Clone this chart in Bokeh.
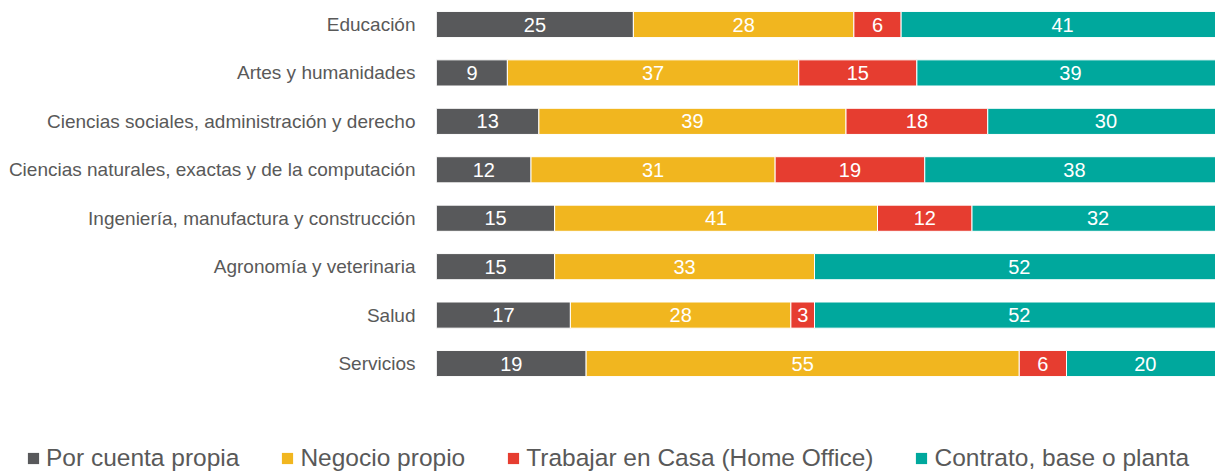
from bokeh.plotting import figure
from bokeh.models import ColumnDataSource, FixedTicker, Legend, LegendItem, Range1d
from bokeh.core.properties import value
from bokeh.embed import file_html
from bokeh.resources import INLINE

categories = [
    "Educación",
    "Artes y humanidades",
    "Ciencias sociales, administración y derecho",
    "Ciencias naturales, exactas y de la computación",
    "Ingeniería, manufactura y construcción",
    "Agronomía y veterinaria",
    "Salud",
    "Servicios",
]
series_names = ["Por cuenta propia", "Negocio propio", "Trabajar en Casa (Home Office)", "Contrato, base o planta"]
por_cuenta_propia = [25, 9, 13, 12, 15, 15, 17, 19]
negocio_propio = [28, 37, 39, 31, 41, 33, 28, 55]
trabajar_en_casa = [6, 15, 18, 19, 12, 0, 3, 6]
contrato = [41, 39, 30, 38, 32, 52, 52, 20]
colors = ["#58595b", "#f1b61f", "#e63d30", "#00a89d"]

FONT = "Liberation Sans"
n = len(categories)
ypos = [n - 1 - i for i in range(n)]
keys = ["s0", "s1", "s2", "s3"]
series = [por_cuenta_propia, negocio_propio, trabajar_en_casa, contrato]

data = {"y": ypos}
for k, s in zip(keys, series):
    data[k] = s
src = ColumnDataSource(data)

p = figure(width=1215, height=436, output_backend="svg", toolbar_location=None,
           x_range=Range1d(0, 98.92), y_range=Range1d(-1.507, 7.4956),
           min_border_left=436, min_border_right=0, min_border_top=0, min_border_bottom=0)

p.hbar_stack(keys, y="y", height=0.54, color=colors, source=src,
             line_color="white", line_width=1)

# segment labels
lx, ly, lt = [], [], []
for i in range(n):
    left = 0
    for s in series:
        v = s[i]
        if v > 0:
            lx.append(left + v / 2)
            ly.append(ypos[i])
            lt.append(str(v))
        left += v
p.text(x=lx, y=ly, text=lt, text_color="white", text_align="center", text_baseline="middle",
       text_font=value(FONT), text_font_size="20px")

p.xaxis.visible = False
p.xgrid.visible = False
p.ygrid.visible = False
p.outline_line_color = None

ax = p.yaxis[0]
ax.ticker = FixedTicker(ticks=ypos)
ax.major_label_overrides = {y: c for y, c in zip(ypos, categories)}
ax.axis_line_color = None
ax.major_tick_line_color = None
ax.minor_tick_line_color = None
ax.major_label_standoff = 15
ax.major_label_text_font = FONT
ax.major_label_text_font_size = "19px"
ax.major_label_text_color = "#595959"

# legend strip (separate root so its frame is not aligned with the chart's)
p2 = figure(width=1215, height=36, output_backend="svg", toolbar_location=None,
            x_range=Range1d(0, 1), y_range=Range1d(0, 1),
            x_axis_location=None, y_axis_location=None,
            min_border_left=0, min_border_right=0, min_border_top=0, min_border_bottom=0)
p2.grid.visible = False
p2.outline_line_color = None
dummies = []
for c in colors:
    r = p2.rect(x=[-10], y=[-10], width=1, height=1, fill_color=c, line_color=None)
    dummies.append(r)

legend = Legend(items=[LegendItem(label=nm, renderers=[r]) for nm, r in zip(series_names, dummies)],
                orientation="horizontal", location=(26, 0),
                glyph_width=14, glyph_height=14, label_standoff=6, spacing=41,
                padding=0, margin=0, border_line_alpha=0, background_fill_alpha=0,
                label_text_font=FONT, label_text_font_size="24.5px", label_text_color="#595959")
p2.add_layout(legend, "center")

open("out.html", "w").write(file_html([p, p2], INLINE))
